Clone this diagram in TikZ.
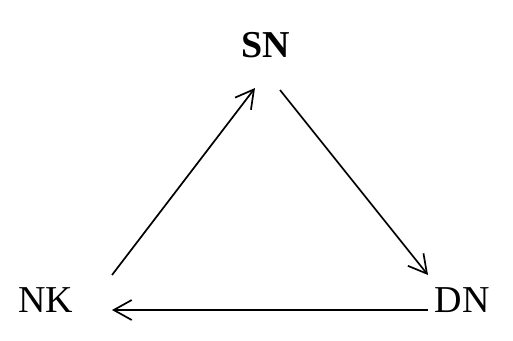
\documentclass[tikz,border=0pt]{standalone}
\usepackage{fontspec}
\setmainfont{Liberation Serif}
\usetikzlibrary{positioning,arrows.meta}

\begin{document}
\begin{tikzpicture}[x=1pt,y=-1pt,
    font=\fontsize{38}{44}\selectfont,
    lbl/.style={inner sep=0pt},
    every edge/.style={draw,line width=1.7pt,-{Straight Barb[length=18pt,width=20pt,line width=1.7pt]}}]
    \useasboundingbox (0,0) rectangle (513,340);
    \node[lbl,font=\fontsize{38}{44}\selectfont\bfseries] (SN) at (266,45) {SN};
    \node[lbl] (NK) at (46,300) {NK};
    \node[lbl] (DN) at (462,300) {DN};
    % arrow ends
    \coordinate (nkout) at (112,275);
    \coordinate (snin) at (255,88);
    \coordinate (snout) at (280,90);
    \coordinate (dnin) at (428,275);
    \coordinate (dnout) at (428,310);
    \coordinate (nkin) at (112,310);
    \path (nkout) edge (snin);
    \path (snout) edge (dnin);
    \path (dnout) edge (nkin);
  \end{tikzpicture}
\end{document}
